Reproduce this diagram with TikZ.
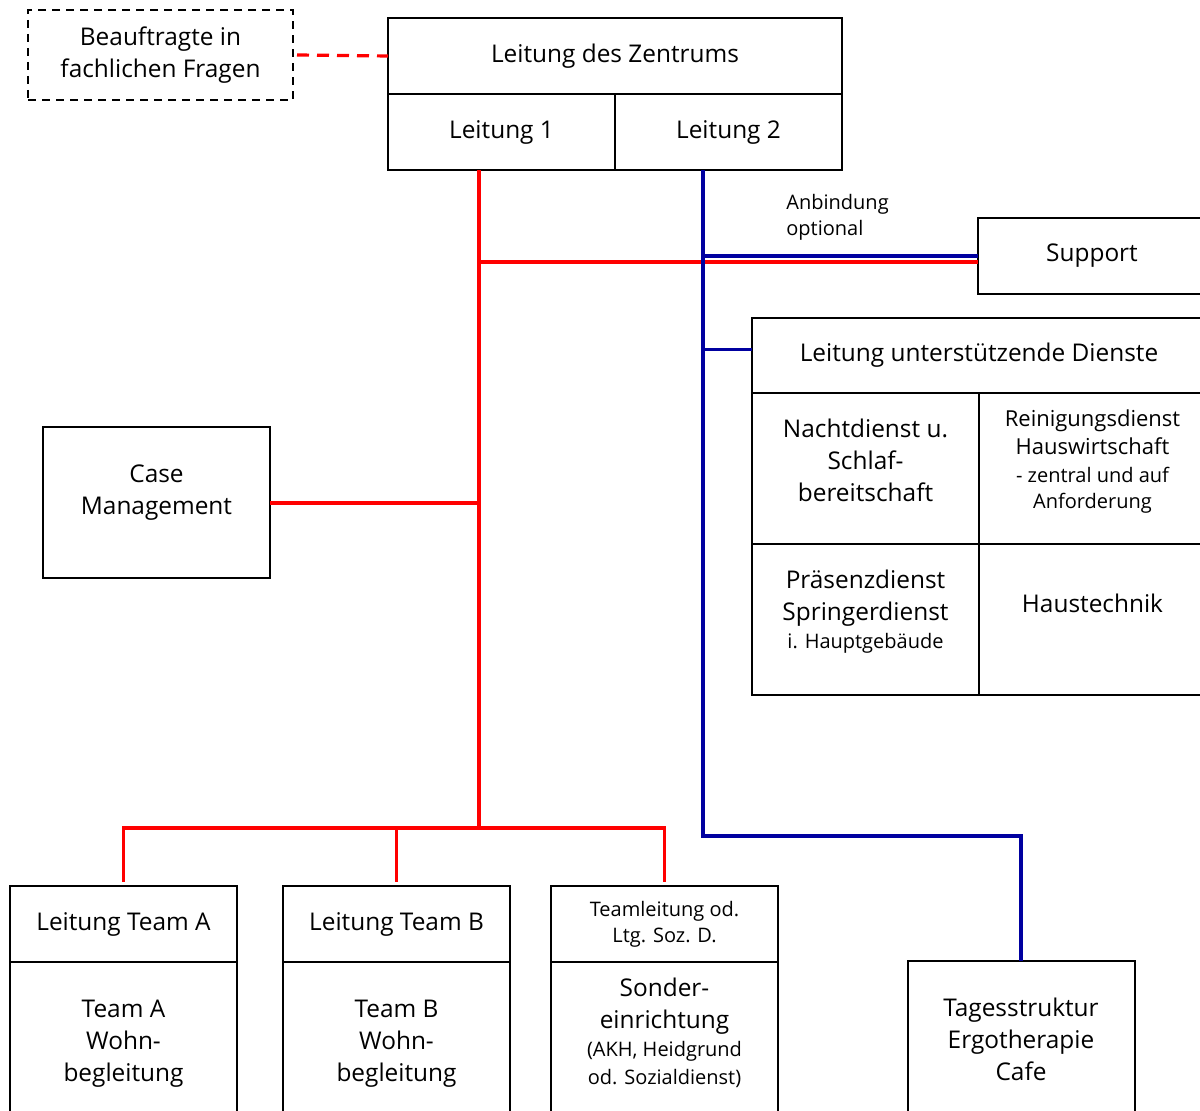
\documentclass[tikz,border=0pt]{standalone}
\usepackage{fontspec}
\setmainfont{Open Sans}
\usetikzlibrary{positioning,calc}

\definecolor{linkblue}{RGB}{0,0,160}
\newcommand{\mainsize}{\fontsize{12.2}{16}\selectfont}
\newcommand{\midsize}{\fontsize{11}{14}\selectfont}
\newcommand{\smallsize}{\fontsize{10}{13}\selectfont}

\begin{document}
\begin{tikzpicture}[
    x=0.5pt, y=-0.5pt,
    node distance=0pt,
    box/.style={rectangle, draw, line width=1pt, outer sep=0pt, align=center, font=\mainsize, fill=white},
    headbox/.style={box, minimum width=113.5pt, minimum height=38pt},
    bodybox/.style={box, minimum width=113.5pt, minimum height=75.5pt},
    redline/.style={draw=red, line width=1.6pt},
    blueline/.style={draw=linkblue, line width=1.6pt},
    note/.style={font=\smallsize, align=left, anchor=west, inner sep=0pt}
]
\clip (0,0) rectangle (1200,1111);

% Leitung
\node[box, minimum width=227pt, minimum height=38pt] (zentrum) at (615,56) {Leitung des Zentrums};
\node[headbox, below right=0pt and 0pt of zentrum.south west] (lt1) {Leitung 1};
\node[headbox, right=of lt1] (lt2) {Leitung 2};

% Beauftragte
\node[box, dashed, dash pattern=on 4pt off 3pt, minimum width=132.5pt, minimum height=45pt] (beauftr) at (160.5,55) {Beauftragte in\\fachlichen Fragen};

% Support
\node[headbox, minimum width=114pt] (support) at (1092,256) {Support};
\node[note] (anbindung) at (786,217) {Anbindung\\optional};

% Unterstuetzende Dienste
\node[box, minimum width=227pt, minimum height=37.5pt] (lud) at (979,355.5) {Leitung unterstützende Dienste};
\node[bodybox, below right=0pt and 0pt of lud.south west] (nacht) {Nachtdienst u.\\Schlaf-\\bereitschaft\\[-8pt]\mbox{}};
\node[bodybox, right=of nacht] (reinig) {{\midsize Reinigungsdienst}\\[-2pt]{\midsize Hauswirtschaft}\\[-2pt]{\smallsize - zentral und auf}\\[-3pt]{\smallsize Anforderung}\\[-7pt]\mbox{}};
\node[bodybox, below=of nacht] (praesenz) {Präsenzdienst\\Springerdienst\\[-2pt]{\smallsize i. Hauptgebäude}\\[-6pt]\mbox{}};
\node[bodybox, right=of praesenz] (haustech) {Haustechnik\\\mbox{}};

% Case Management
\node[bodybox] (cm) at (156.5,503) {Case\\Management\\[-3pt]\mbox{}};

% Teams
\node[headbox] (leitA) at (123.5,924) {Leitung Team A};
\node[bodybox, below=of leitA] (teamA) {\mbox{}\\[-1pt]Team A\\Wohn-\\begleitung};
\node[headbox] (leitB) at (396.5,924) {Leitung Team B};
\node[bodybox, below=of leitB] (teamB) {\mbox{}\\[-1pt]Team B\\Wohn-\\begleitung};
\node[headbox, font=\smallsize] (leitS) at (664.5,924) {Teamleitung od.\\Ltg. Soz. D.};
\node[bodybox, below=of leitS] (sonder) {Sonder-\\einrichtung\\[-2pt]{\smallsize (AKH, Heidgrund}\\[-2pt]{\smallsize od. Sozialdienst)}\\[-9.5pt]\mbox{}};
\node[bodybox] (tages) at (1021,1037) {\mbox{}\\[-4pt]Tagesstruktur\\Ergotherapie\\Cafe};

% Verbindungen rot
\coordinate (redhub) at (479,828);
\coordinate (redsup) at ($(support.west)+(0,6)$);
\draw[redline, dash pattern=on 6pt off 4pt] ([xshift=2pt]beauftr.east) -- (zentrum.west);
\draw[redline] (lt1.south -| redhub) -- (redhub);
\draw[redline] (redsup -| redhub) -- (redsup);
\draw[redline] (cm.east) -- (cm.east -| redhub);
\draw[redline] ([yshift=2pt]leitA.north) |- (redhub) -| ([yshift=2pt]leitS.north);
\draw[redline] ([yshift=2pt]leitB.north) -- (leitB.north |- redhub);

% Verbindungen blau
\coordinate (bluehub) at (703,836);
\draw[blueline] (lt2.south -| bluehub) -- (bluehub) -| (tages.north);
\draw[blueline] (support.west) -- (support.west -| bluehub);
\draw[blueline] ([yshift=3pt]lud.west) -- ([yshift=3pt]lud.west -| bluehub);

\end{tikzpicture}
\end{document}
